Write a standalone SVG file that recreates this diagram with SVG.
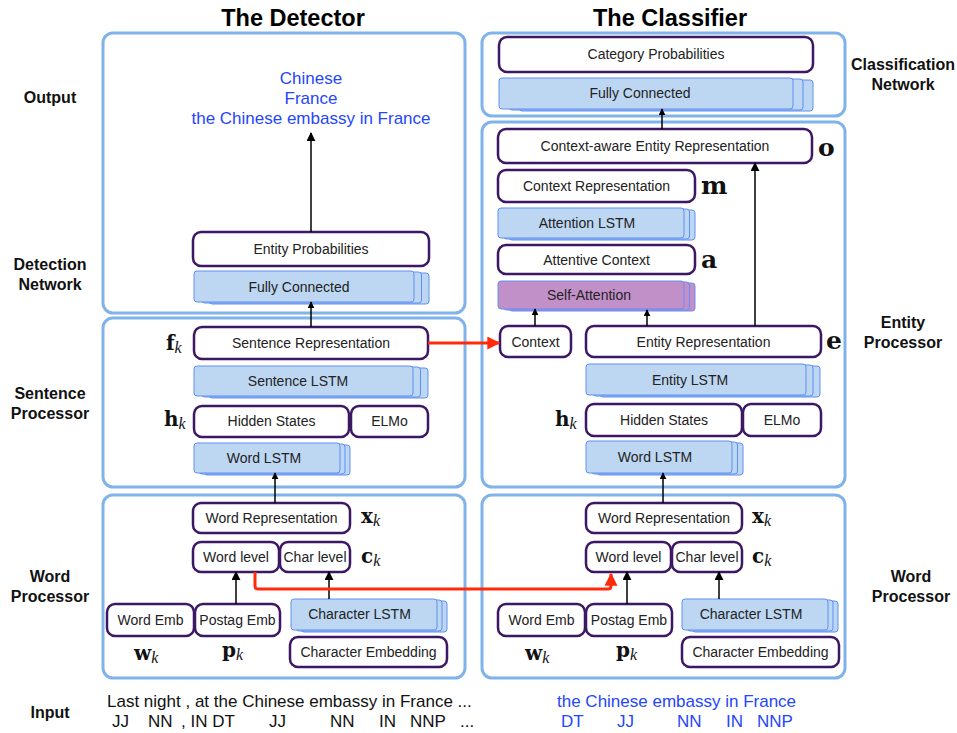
<svg xmlns="http://www.w3.org/2000/svg" width="957" height="733" viewBox="0 0 957 733">
<defs>
<style>
.panel{fill:#fff;stroke:#80b3ea;stroke-width:3}
.node{fill:#fff;stroke:#3c1764;stroke-width:2.5}
.lstm{fill:#bdd7f3;stroke:#5f8ff2;stroke-width:1}
.att{fill:#c290c8;stroke:#6a8df2;stroke-width:1}
.t{font-family:"Liberation Sans",Arial,sans-serif;font-size:14px;fill:#222;text-anchor:middle}
.lab{font-family:"Liberation Sans",Arial,sans-serif;font-size:16px;font-weight:bold;fill:#111;text-anchor:middle}
.title{font-family:"Liberation Sans",Arial,sans-serif;font-size:23.5px;font-weight:bold;fill:#000;text-anchor:middle}
.blue{font-family:"Liberation Sans",Arial,sans-serif;font-size:17px;fill:#2546fb}
.inp{font-family:"Liberation Sans",Arial,sans-serif;font-size:17px;fill:#111}
.m{font-family:"DejaVu Serif","Liberation Serif",serif;font-weight:bold;font-size:20px;fill:#111}
.mb{font-family:"DejaVu Serif","Liberation Serif",serif;font-weight:bold;font-size:25px;fill:#111}
.sub{font-family:"Liberation Serif","Times New Roman",serif;font-style:italic;font-weight:normal;font-size:16px}
.arr{stroke:#000;stroke-width:1.5;fill:none}
.red{stroke:#ff2a0a;stroke-width:3;fill:none}
</style>
<marker id="ah" viewBox="0 0 10 10" refX="9" refY="5" markerWidth="7" markerHeight="7" markerUnits="userSpaceOnUse" orient="auto"><path d="M0,0 L10,5 L0,10 z" fill="#000"/></marker>
<marker id="ahb" viewBox="0 0 10 10" refX="9" refY="5" markerWidth="9" markerHeight="9" markerUnits="userSpaceOnUse" orient="auto"><path d="M0,0 L10,5 L0,10 z" fill="#000"/></marker>
<marker id="rh" viewBox="0 0 10 10" refX="9" refY="5" markerWidth="14" markerHeight="13" markerUnits="userSpaceOnUse" orient="auto"><path d="M0,0 L10,5 L0,10 z" fill="#ff2a0a"/></marker>
</defs>
<rect width="957" height="733" fill="#fff"/>

<!-- titles and side labels -->
<text class="title" x="293" y="26">The Detector</text>
<text class="title" x="670" y="26">The Classifier</text>
<text class="lab" x="50" y="103">Output</text>
<text class="lab" x="50" y="270">Detection</text>
<text class="lab" x="50" y="290">Network</text>
<text class="lab" x="50" y="399">Sentence</text>
<text class="lab" x="50" y="419">Processor</text>
<text class="lab" x="50" y="582">Word</text>
<text class="lab" x="50" y="602">Processor</text>
<text class="lab" x="50" y="718">Input</text>
<text class="lab" x="903" y="70">Classification</text>
<text class="lab" x="903" y="90">Network</text>
<text class="lab" x="903" y="328">Entity</text>
<text class="lab" x="903" y="348">Processor</text>
<text class="lab" x="911" y="582">Word</text>
<text class="lab" x="911" y="602">Processor</text>

<!-- panels -->
<g id="panels">
<rect id="det_out_panel" class="panel" x="103" y="33" width="362" height="280" rx="10"/>
<rect id="det_sent_panel" class="panel" x="103" y="318" width="362" height="169" rx="10"/>
<rect id="det_word_panel" class="panel" x="103" y="495" width="362" height="183" rx="10"/>
<rect id="cls_net_panel" class="panel" x="482" y="33" width="363" height="83" rx="10"/>
<rect id="cls_ent_panel" class="panel" x="482" y="122" width="363" height="365" rx="10"/>
<rect id="cls_word_panel" class="panel" x="482" y="495" width="363" height="183" rx="10"/>
</g>

<!-- output text -->
<g id="det_output">
<text class="blue" x="311" y="84" text-anchor="middle">Chinese</text>
<text class="blue" x="311" y="104" text-anchor="middle">France</text>
<text class="blue" x="311" y="124" text-anchor="middle">the Chinese embassy in France</text>
</g>

<!-- detector nodes -->
<g id="det_ent_prob"><rect class="node" x="193" y="232" width="236" height="34" rx="8"/><text class="t" x="311" y="254">Entity Probabilities</text></g>
<g id="det_fc"><rect class="lstm" x="209" y="273" width="220" height="31" rx="3"/><rect class="lstm" x="201.5" y="272" width="220" height="31" rx="3"/><rect class="lstm" x="194" y="271" width="220" height="31" rx="3"/><text class="t" x="299" y="292">Fully Connected</text></g>
<g id="det_sent_rep"><rect class="node" x="194" y="327" width="234" height="32" rx="8"/><text class="t" x="311" y="348">Sentence Representation</text></g>
<g id="det_sent_lstm"><rect class="lstm" x="209" y="368" width="219" height="30" rx="3"/><rect class="lstm" x="201.5" y="367" width="219" height="30" rx="3"/><rect class="lstm" x="194" y="366" width="219" height="30" rx="3"/><text class="t" x="298" y="386">Sentence LSTM</text></g>
<g id="det_hidden"><rect class="node" x="194" y="406" width="155" height="31" rx="8"/><text class="t" x="271.5" y="426">Hidden States</text></g>
<g id="det_elmo"><rect class="node" x="351" y="406" width="77" height="31" rx="8"/><text class="t" x="389.5" y="426">ELMo</text></g>
<g id="det_word_lstm"><rect class="lstm" x="204" y="445" width="146" height="30" rx="3"/><rect class="lstm" x="199" y="444" width="146" height="30" rx="3"/><rect class="lstm" x="194" y="443" width="146" height="30" rx="3"/><text class="t" x="264" y="463">Word LSTM</text></g>
<g id="det_word_rep"><rect class="node" x="193" y="503" width="157" height="30" rx="8"/><text class="t" x="271.5" y="523">Word Representation</text></g>
<g id="det_word_level"><rect class="node" x="193" y="542" width="86" height="30" rx="8"/><text class="t" x="236" y="562">Word level</text></g>
<g id="det_char_level"><rect class="node" x="280" y="542" width="70" height="30" rx="8"/><text class="t" x="315" y="562">Char level</text></g>
<g id="det_word_emb"><rect class="node" x="107" y="604" width="87" height="32" rx="8"/><text class="t" x="150.5" y="625">Word Emb</text></g>
<g id="det_postag"><rect class="node" x="195" y="604" width="85" height="32" rx="8"/><text class="t" x="237.5" y="625">Postag Emb</text></g>
<g id="det_char_lstm"><rect class="lstm" x="301" y="601" width="146" height="31" rx="3"/><rect class="lstm" x="296" y="600" width="146" height="31" rx="3"/><rect class="lstm" x="291" y="599" width="146" height="31" rx="3"/><text class="t" x="359.5" y="619">Character LSTM</text></g>
<g id="det_char_emb"><rect class="node" x="290" y="637" width="157" height="30" rx="8"/><text class="t" x="368.5" y="657">Character Embedding</text></g>

<!-- classifier nodes -->
<g id="cls_cat_prob"><rect class="node" x="499" y="37" width="314" height="35" rx="8"/><text class="t" x="656" y="59">Category Probabilities</text></g>
<g id="cls_fc"><rect class="lstm" x="519" y="80" width="294" height="31" rx="3"/><rect class="lstm" x="509" y="79" width="294" height="31" rx="3"/><rect class="lstm" x="499" y="78" width="294" height="31" rx="3"/><text class="t" x="640" y="98">Fully Connected</text></g>
<g id="cls_ctx_aware"><rect class="node" x="498" y="129" width="314" height="34" rx="8"/><text class="t" x="655" y="151">Context-aware Entity Representation</text></g>
<g id="cls_ctx_rep"><rect class="node" x="498" y="170" width="197" height="32" rx="8"/><text class="t" x="596.5" y="191">Context Representation</text></g>
<g id="cls_att_lstm"><rect class="lstm" x="509" y="210" width="186" height="30" rx="3"/><rect class="lstm" x="503.5" y="209" width="186" height="30" rx="3"/><rect class="lstm" x="498" y="208" width="186" height="30" rx="3"/><text class="t" x="587" y="228">Attention LSTM</text></g>
<g id="cls_att_ctx"><rect class="node" x="498" y="245" width="197" height="29" rx="8"/><text class="t" x="596.5" y="264.5">Attentive Context</text></g>
<g id="cls_self_att"><rect class="att" x="509" y="283" width="186" height="28" rx="3"/><rect class="att" x="503.5" y="282" width="186" height="28" rx="3"/><rect class="att" x="498" y="281" width="186" height="28" rx="3"/><text class="t" x="589" y="300">Self-Attention</text></g>
<g id="cls_context"><rect class="node" x="500" y="326" width="71" height="31" rx="8"/><text class="t" x="535.5" y="346.5">Context</text></g>
<g id="cls_ent_rep"><rect class="node" x="586" y="326" width="235" height="31" rx="8"/><text class="t" x="703.5" y="346.5">Entity Representation</text></g>
<g id="cls_ent_lstm"><rect class="lstm" x="600" y="366" width="220" height="31" rx="3"/><rect class="lstm" x="593" y="365" width="220" height="31" rx="3"/><rect class="lstm" x="586" y="364" width="220" height="31" rx="3"/><text class="t" x="690" y="384.5">Entity LSTM</text></g>
<g id="cls_hidden"><rect class="node" x="586" y="404" width="156" height="32" rx="8"/><text class="t" x="664" y="425">Hidden States</text></g>
<g id="cls_elmo"><rect class="node" x="743" y="404" width="78" height="32" rx="8"/><text class="t" x="782" y="425">ELMo</text></g>
<g id="cls_word_lstm"><rect class="lstm" x="597" y="443" width="146" height="32" rx="3"/><rect class="lstm" x="591.5" y="442" width="146" height="32" rx="3"/><rect class="lstm" x="586" y="441" width="146" height="32" rx="3"/><text class="t" x="655" y="462">Word LSTM</text></g>
<g id="cls_word_rep"><rect class="node" x="586" y="503" width="156" height="30" rx="8"/><text class="t" x="664" y="523">Word Representation</text></g>
<g id="cls_word_level"><rect class="node" x="586" y="542" width="85" height="30" rx="8"/><text class="t" x="628.5" y="562">Word level</text></g>
<g id="cls_char_level"><rect class="node" x="672" y="542" width="70" height="30" rx="8"/><text class="t" x="707" y="562">Char level</text></g>
<g id="cls_word_emb"><rect class="node" x="498" y="604" width="87" height="32" rx="8"/><text class="t" x="541.5" y="625">Word Emb</text></g>
<g id="cls_postag"><rect class="node" x="586" y="604" width="86" height="32" rx="8"/><text class="t" x="629" y="625">Postag Emb</text></g>
<g id="cls_char_lstm"><rect class="lstm" x="692" y="601" width="146" height="31" rx="3"/><rect class="lstm" x="687" y="600" width="146" height="31" rx="3"/><rect class="lstm" x="682" y="599" width="146" height="31" rx="3"/><text class="t" x="751" y="619">Character LSTM</text></g>
<g id="cls_char_emb"><rect class="node" x="682" y="637" width="157" height="30" rx="8"/><text class="t" x="760.5" y="657">Character Embedding</text></g>

<!-- math labels -->
<g id="math">
<text class="m" x="166" y="350">f<tspan class="sub" dy="3">k</tspan></text>
<text class="m" x="164" y="426">h<tspan class="sub" dy="3">k</tspan></text>
<text class="m" x="361" y="523">x<tspan class="sub" dy="3">k</tspan></text>
<text class="m" x="361" y="563">c<tspan class="sub" dy="3">k</tspan></text>
<text class="m" x="134" y="660">w<tspan class="sub" dy="3">k</tspan></text>
<text class="m" x="222" y="657">p<tspan class="sub" dy="3">k</tspan></text>
<text class="m" x="555" y="426">h<tspan class="sub" dy="3">k</tspan></text>
<text class="m" x="752" y="523">x<tspan class="sub" dy="3">k</tspan></text>
<text class="m" x="752" y="563">c<tspan class="sub" dy="3">k</tspan></text>
<text class="m" x="525" y="660">w<tspan class="sub" dy="3">k</tspan></text>
<text class="m" x="616" y="657">p<tspan class="sub" dy="3">k</tspan></text>
<text class="mb" x="818" y="156">o</text>
<text class="mb" x="701" y="194">m</text>
<text class="mb" x="701" y="268">a</text>
<text class="mb" x="826" y="349">e</text>
</g>

<!-- connectors -->
<g id="connectors">
<line class="arr" x1="311" y1="232" x2="311" y2="133" marker-end="url(#ahb)"/>
<line class="arr" x1="311" y1="327" x2="311" y2="302" marker-end="url(#ah)"/>
<line class="arr" x1="275" y1="503" x2="275" y2="473" marker-end="url(#ah)"/>
<line class="arr" x1="236" y1="604" x2="236" y2="572" marker-end="url(#ahb)"/>
<line class="arr" x1="329" y1="599" x2="329" y2="572" marker-end="url(#ahb)"/>
<line class="arr" x1="663" y1="503" x2="663" y2="473" marker-end="url(#ah)"/>
<line class="arr" x1="627" y1="604" x2="627" y2="572" marker-end="url(#ahb)"/>
<line class="arr" x1="719" y1="599" x2="719" y2="572" marker-end="url(#ahb)"/>
<line class="arr" x1="535" y1="326" x2="535" y2="309" marker-end="url(#ah)"/>
<line class="arr" x1="647" y1="326" x2="647" y2="310" marker-end="url(#ah)"/>
<line class="arr" x1="755" y1="326" x2="755" y2="163" marker-end="url(#ahb)"/>
<line class="arr" x1="662" y1="129" x2="662" y2="109" marker-end="url(#ah)"/>
<line class="red" x1="428" y1="343" x2="499" y2="343" marker-end="url(#rh)"/>
<path class="red" d="M255,572 L255,586 Q255,589 258,589 L608,589 Q611,589 611,586 L611,574" marker-end="url(#rh)"/>
</g>

<!-- input -->
<g id="input">
<text class="inp" x="107" y="707">Last night , at the Chinese embassy in France ...</text>
<text class="inp" x="112" y="727">JJ</text>
<text class="inp" x="148" y="727">NN</text>
<text class="inp" x="181" y="727">, IN DT</text>
<text class="inp" x="269" y="727">JJ</text>
<text class="inp" x="330" y="727">NN</text>
<text class="inp" x="379" y="727">IN</text>
<text class="inp" x="410" y="727">NNP</text>
<text class="inp" x="460" y="727">...</text>
<text class="blue" x="557" y="707">the Chinese embassy in France</text>
<text class="blue" x="561" y="727">DT</text>
<text class="blue" x="617" y="727">JJ</text>
<text class="blue" x="677" y="727">NN</text>
<text class="blue" x="726" y="727">IN</text>
<text class="blue" x="757" y="727">NNP</text>
</g>
</svg>
